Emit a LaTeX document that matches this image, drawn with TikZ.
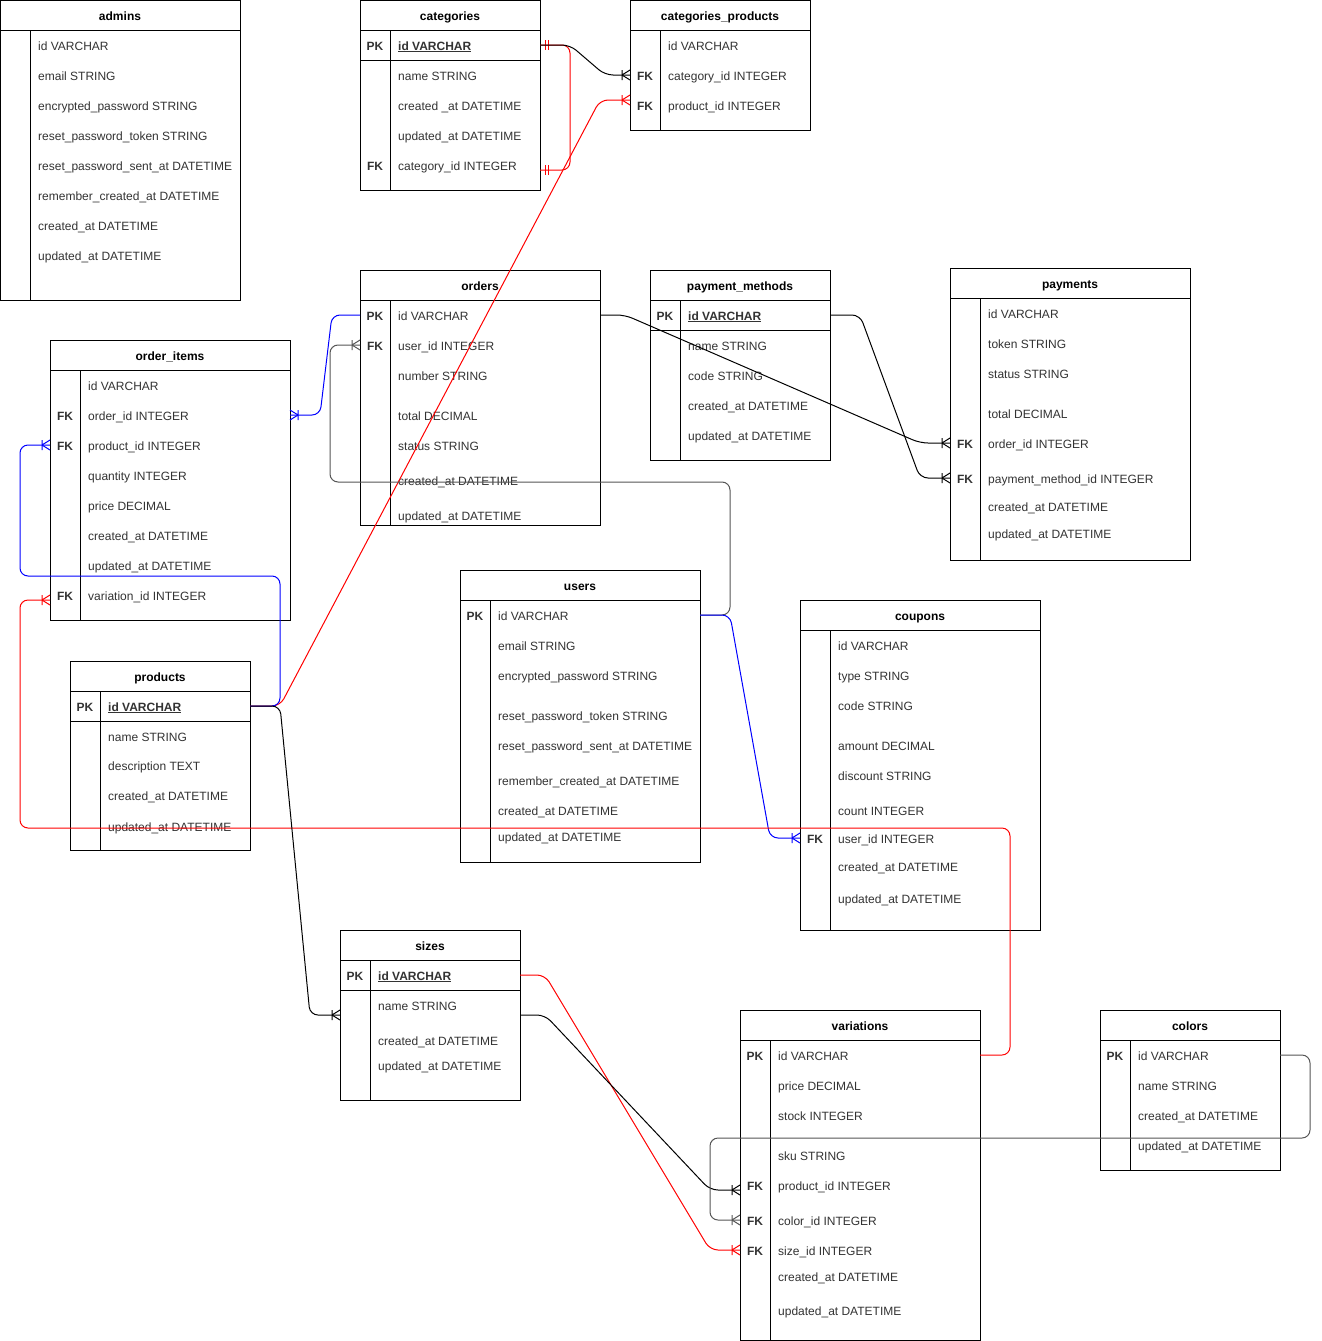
\documentclass[tikz,border=0pt]{standalone}
\usepackage{fontspec}
\setmainfont{Liberation Sans}
\usetikzlibrary{calc}
\definecolor{RelRed}{HTML}{FF0000}
\definecolor{RelBlue}{HTML}{0000FF}
\definecolor{RelGrey}{HTML}{555555}
\definecolor{FieldText}{HTML}{333333}
\tikzset{
  % Table styles
  tablebox/.style={draw, line width=1pt, anchor=north west, inner sep=0pt, outer sep=0pt},
  tabletitle/.style={font=\bfseries\fontsize{12}{14}\selectfont, inner sep=0pt, text height=12pt, text depth=2pt},
  keytext/.style={font=\bfseries\fontsize{12}{14}\selectfont, text=FieldText, inner sep=0pt, text height=12pt, text depth=2pt},
  fieldtext/.style={anchor=west, font=\fontsize{12}{14}\selectfont, text=FieldText, inner sep=0pt, text height=12pt, text depth=2pt},
  % Relation styles
  rel/.style={line width=1pt, rounded corners=8pt},
  crowfoot/.pic={\draw[line width=1pt, sharp corners] (-8,0) -- (0,-5) (-8,0) -- (0,5) (-8,-5) -- (-8,5);},
  onebar/.pic={\draw[line width=1pt, sharp corners] (5,-5) -- (5,5) (8,-5) -- (8,5);}
}
\newcommand{\ertable}[6]{%
  \node[tablebox, minimum width=#4, minimum height=#5] (#1) at (#2,#3) {};
  \node[tabletitle] (#1-title) at ([yshift=-15pt]#1.north) {#6};
  \draw[line width=1pt] ([yshift=-30pt]#1.north west) -- ([yshift=-30pt]#1.north east);
  \draw[line width=1pt] ([shift={(30,30)}]#1.north west) -- ([xshift=30pt]#1.south west);
}
\newcommand{\erpkline}[1]{\draw[line width=1pt] ([yshift=-60pt]#1.north west) -- ([yshift=-60pt]#1.north east);}
\newcommand{\erfields}[2]{%
  \foreach \r/\dy/\k/\t in {#2}{
    \node[keytext] (#1-\r-key) at ([shift={(15,\dy)}]#1.north west) {\k};
    \node[fieldtext] (#1-\r) at ([shift={(38,\dy)}]#1.north west) {\t};
  }}

\begin{document}
\begin{tikzpicture}[x=1pt, y=-1pt]
  \path[fill=white] (0,0) rectangle (1322,1341);
  \useasboundingbox (0,0) rectangle (1322,1341);

  % Tables
  \ertable{admins}{0}{0}{240}{300}{admins}
  \erfields{admins}{id/45//id VARCHAR, email/75//email STRING,
    encpass/105//encrypted\_password STRING, resettoken/135//reset\_password\_token STRING,
    resetsent/165//reset\_password\_sent\_at DATETIME, remember/195//remember\_created\_at DATETIME,
    created/225//created\_at DATETIME, updated/255//updated\_at DATETIME}

  \ertable{categories}{360}{0}{180}{190}{categories}
  \erpkline{categories}
  \erfields{categories}{id/45/PK/\underline{\textbf{id VARCHAR}}, name/75//name STRING,
    created/105//created \_at DATETIME, updated/135//updated\_at DATETIME,
    category/165/FK/category\_id INTEGER}

  \ertable{catprod}{630}{0}{180}{130}{categories\_products}
  \erfields{catprod}{id/45//id VARCHAR, category/75/FK/category\_id INTEGER,
    product/105/FK/product\_id INTEGER}

  \ertable{orders}{360}{270}{240}{255}{orders}
  \erfields{orders}{id/45/PK/id VARCHAR, user/75/FK/user\_id INTEGER, number/105//number STRING,
    total/145//total DECIMAL, status/175//status STRING, created/210//created\_at DATETIME,
    updated/245//updated\_at DATETIME}

  \ertable{paymethods}{650}{270}{180}{190}{payment\_methods}
  \erpkline{paymethods}
  \erfields{paymethods}{id/45/PK/\underline{\textbf{id VARCHAR}}, name/75//name STRING,
    code/105//code STRING, created/135//created\_at DATETIME, updated/165//updated\_at DATETIME}

  \ertable{payments}{950}{268}{240}{292}{payments}
  \erfields{payments}{id/45//id VARCHAR, token/75//token STRING, status/105//status STRING,
    total/145//total DECIMAL, order/175/FK/order\_id INTEGER,
    method/210/FK/payment\_method\_id INTEGER, created/238//created\_at DATETIME,
    updated/265//updated\_at DATETIME}

  \ertable{orderitems}{50}{340}{240}{280}{order\_items}
  \erfields{orderitems}{id/45//id VARCHAR, order/75/FK/order\_id INTEGER,
    product/105/FK/product\_id INTEGER, quantity/135//quantity INTEGER,
    price/165//price DECIMAL, created/195//created\_at DATETIME,
    updated/225//updated\_at DATETIME, variation/255/FK/variation\_id INTEGER}

  \ertable{products}{70}{661}{180}{189}{products}
  \erpkline{products}
  \erfields{products}{id/45/PK/\underline{\textbf{id VARCHAR}}, name/75//name STRING,
    description/104//description TEXT, created/134//created\_at DATETIME,
    updated/165//updated\_at DATETIME}

  \ertable{users}{460}{570}{240}{292}{users}
  \erfields{users}{id/45/PK/id VARCHAR, email/75//email STRING,
    encpass/105//encrypted\_password STRING, resettoken/145//reset\_password\_token STRING,
    resetsent/175//reset\_password\_sent\_at DATETIME, remember/210//remember\_created\_at DATETIME,
    created/240//created\_at DATETIME, updated/266//updated\_at DATETIME}

  \ertable{coupons}{800}{600}{240}{330}{coupons}
  \erfields{coupons}{id/45//id VARCHAR, type/75//type STRING, code/105//code STRING,
    amount/145//amount DECIMAL, discount/175//discount STRING, count/210//count INTEGER,
    user/238/FK/user\_id INTEGER, created/266//created\_at DATETIME,
    updated/298//updated\_at DATETIME}

  \ertable{sizes}{340}{930}{180}{170}{sizes}
  \erpkline{sizes}
  \erfields{sizes}{id/45/PK/\underline{\textbf{id VARCHAR}}, name/75//name STRING,
    created/110//created\_at DATETIME, updated/135//updated\_at DATETIME}

  \ertable{variations}{740}{1010}{240}{330}{variations}
  \erfields{variations}{id/45/PK/id VARCHAR, price/75//price DECIMAL, stock/105//stock INTEGER,
    sku/145//sku STRING, product/175/FK/product\_id INTEGER, color/210/FK/color\_id INTEGER,
    size/240/FK/size\_id INTEGER, created/266//created\_at DATETIME,
    updated/300//updated\_at DATETIME}

  \ertable{colors}{1100}{1010}{180}{160}{colors}
  \erfields{colors}{id/45/PK/id VARCHAR, name/75//name STRING,
    created/105//created\_at DATETIME, updated/135//updated\_at DATETIME}

  % Relations
  \draw[rel, RelRed] (categories.east |- categories-id) pic {onebar} -- ++(30,0) -- ++(0,125)
    -- ($(categories.east |- categories-category)+(0,5)$) pic {onebar};
  \draw[rel] (categories.east |- categories-id) -- ++(30,0)
    -- ($(catprod.west |- catprod-category)+(-25,0)$) -- (catprod.west |- catprod-category) pic {crowfoot};
  \draw[rel, RelRed] (products.east |- products-id) -- ++(30,0)
    -- ($(catprod.west |- catprod-product)+(-30,-5)$) -- ($(catprod.west |- catprod-product)+(0,-5)$) pic {crowfoot};
  \draw[rel, RelBlue] (orders.west |- orders-id) -- ++(-28,0)
    -- ($(orderitems.east |- orderitems-order)+(30,0)$) -- (orderitems.east |- orderitems-order) pic[xscale=-1] {crowfoot};
  \draw[rel, RelGrey] (users.east |- users-id) -- ++(30,0) -- ++(0,-133)
    -| ($(orders.west |- orders-user)+(-30,0)$) -- (orders.west |- orders-user) pic {crowfoot};
  \draw[rel] (orders.east |- orders-id) -- ++(25,0)
    -- ($(payments.west |- payments-order)+(-30,0)$) -- (payments.west |- payments-order) pic {crowfoot};
  \draw[rel] (paymethods.east |- paymethods-id) -- ++(30,0)
    -- ($(payments.west |- payments-method)+(-30,0)$) -- (payments.west |- payments-method) pic {crowfoot};
  \draw[rel, RelBlue] (users.east |- users-id) -- ++(30,0)
    -- ($(coupons.west |- coupons-user)+(-30,0)$) -- (coupons.west |- coupons-user) pic {crowfoot};
  \draw[rel, RelBlue] (products.east |- products-id) -- ++(30,0) -- ++(0,-130)
    -| ($(orderitems.west |- orderitems-product)+(-30,0)$) -- (orderitems.west |- orderitems-product) pic {crowfoot};
  \draw[rel, RelRed] (variations.east |- variations-id) -- ++(30,0) -- ++(0,-227)
    -| ($(orderitems.west |- orderitems-variation)+(-30,5)$) -- ($(orderitems.west |- orderitems-variation)+(0,5)$) pic {crowfoot};
  \draw[rel] (products.east |- products-id) -- ++(30,0)
    -- ($(sizes.west |- sizes-name)+(-30,10)$) -- ($(sizes.west |- sizes-name)+(0,10)$) pic {crowfoot};
  \draw[rel, RelRed] (sizes.east |- sizes-id) -- ++(25,0)
    -- ($(variations.west |- variations-size)+(-30,0)$) -- (variations.west |- variations-size) pic {crowfoot};
  \draw[rel] ($(sizes.east |- sizes-name)+(0,10)$) -- ++(25,0)
    -- ($(variations.west |- variations-product)+(-30,5)$) -- ($(variations.west |- variations-product)+(0,5)$) pic {crowfoot};
  \draw[rel, RelGrey] (colors.east |- colors-id) -- ++(30,0) -- ++(0,83)
    -| ($(variations.west |- variations-color)+(-30,0)$) -- (variations.west |- variations-color) pic {crowfoot};
\end{tikzpicture}
\end{document}
